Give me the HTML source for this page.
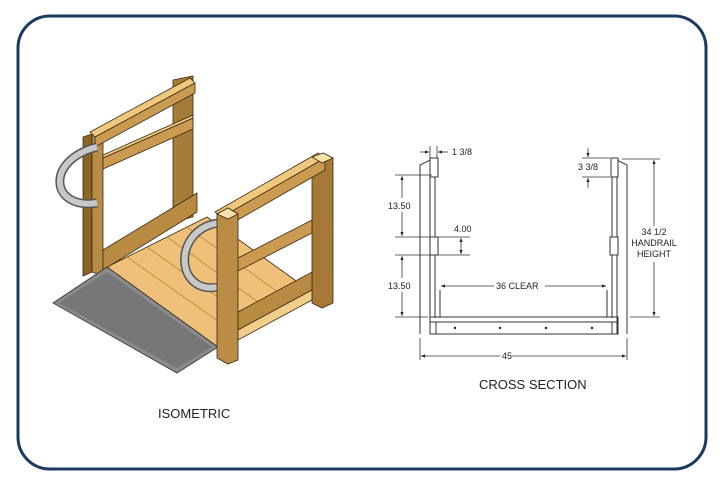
<!DOCTYPE html>
<html><head><style>
html,body{margin:0;padding:0;background:#fff;width:722px;height:487px;overflow:hidden}
svg{display:block}
text{font-family:"Liberation Sans",sans-serif;fill:#222}
</style></head><body>
<svg width="722" height="487" viewBox="0 0 722 487" xmlns="http://www.w3.org/2000/svg">
<defs>
<marker id="a" viewBox="0 0 10 10" refX="10" refY="5" markerWidth="5" markerHeight="5" orient="auto-start-reverse"><path d="M0,1 L10,5 L0,9 z" fill="#222"/></marker>
</defs>
<rect x="18" y="16" width="688" height="453" rx="32" fill="#fff" stroke="#1b3a63" stroke-width="3"/>

<!-- ISOMETRIC -->
<g stroke="#3a2a10" stroke-width="0.8">
<polygon points="173,80 193,76 193,217 173,222" fill="#a67c3a"/>
<polygon points="83,137 92,134 92,272 83,276" fill="#8d6428"/>
<polygon points="92,134 103,138 103,276 92,272" fill="#b88b48"/>
<polygon points="90,132 190,78 195,83 95,137" fill="#efc77e"/>
<polygon points="95,137 195,83 195,93 95,147" fill="#c99a50"/>
<polygon points="103,158 193,118 193,129 103,169" fill="#c99a50"/>
<polygon points="103,155 193,115 193,118 103,158" fill="#efc77e"/>
<polygon points="107,267 207,217 313,293 218,347" fill="#efc07a"/>
<g stroke="#c68e45" stroke-width="1">
<line x1="127" y1="257" x2="235" y2="333"/><line x1="147" y1="247" x2="253" y2="322"/>
<line x1="167" y1="237" x2="272" y2="312"/><line x1="187" y1="227" x2="292" y2="302"/>
</g>
<polygon points="103,250 197,193 197,212 103,270" fill="#b88a42"/>
<polygon points="53,303 107,267 218,347 177,373" fill="#8a8a8a" stroke="#333"/>
<polygon points="59,303 107,272 212,347 177,368" fill="#777" stroke="none"/>
<path d="M97,147 C45,160 50,210 97,203" fill="none" stroke="#555" stroke-width="9"/>
<path d="M97,147 C45,160 50,210 97,203" fill="none" stroke="#c8c8c8" stroke-width="6"/>
<path d="M218,223 C172,230 175,295 218,287" fill="none" stroke="#555" stroke-width="9"/>
<path d="M218,223 C172,230 175,295 218,287" fill="none" stroke="#c8c8c8" stroke-width="6"/>
<polygon points="312,157 323,153 333,158 333,303 322,308 312,303" fill="#a67a36"/>
<polygon points="215,212 318,153 325,158 222,217" fill="#efc77e"/>
<polygon points="222,217 325,158 325,170 222,229" fill="#c99a50"/>
<polygon points="238,258 312,220 312,233 238,271" fill="#c99a50"/>
<polygon points="238,312 312,272 312,290 238,330" fill="#b88a42"/>
<polygon points="238,330 312,290 312,300 238,340" fill="#f2cd8c"/>
<polygon points="217,214 228,208 238,214 238,360 228,364 217,358" fill="#ba8c46"/>
<polygon points="217,214 228,208 238,214 228,219" fill="#f6e2a8"/>
<polygon points="323,153 333,158 322,163 312,157" fill="#f6e2a8"/>
</g>
<text x="158" y="418" font-size="13">ISOMETRIC</text>

<!-- CROSS SECTION -->
<g stroke="#333" stroke-width="1" fill="none">
<path d="M420,334 L420,165 L430,160 L430,334"/>
<rect x="430" y="158" width="8" height="19" fill="#fff"/>
<line x1="435" y1="177" x2="435" y2="318"/>
<rect x="430" y="237" width="8" height="18" fill="#fff"/>
<path d="M627,334 L627,165 L617,160 L617,334"/>
<rect x="611" y="158" width="7" height="19" fill="#fff"/>
<line x1="612" y1="177" x2="612" y2="318"/>
<rect x="610" y="237" width="8" height="18" fill="#fff"/>
<rect x="430" y="317" width="188" height="17"/>
<line x1="430" y1="322" x2="618" y2="322"/>
<line x1="436" y1="322" x2="436" y2="334"/><line x1="612" y1="322" x2="612" y2="334"/>
<line x1="440" y1="290" x2="440" y2="317"/><line x1="607" y1="290" x2="607" y2="317"/>
</g>
<g fill="#222"><circle cx="455" cy="328" r="1.2"/><circle cx="500" cy="328" r="1.2"/><circle cx="546" cy="328" r="1.2"/><circle cx="592" cy="328" r="1.2"/></g>
<g stroke="#333" stroke-width="0.8" fill="none">
<line x1="420" y1="338" x2="420" y2="360"/><line x1="627" y1="338" x2="627" y2="360"/>
<line x1="421" y1="356" x2="500" y2="356" marker-start="url(#a)"/><line x1="512" y1="356" x2="626" y2="356" marker-end="url(#a)"/>
<line x1="622" y1="159" x2="660" y2="159"/><line x1="630" y1="317" x2="660" y2="317"/>
<line x1="654" y1="160" x2="654" y2="226" marker-start="url(#a)"/><line x1="654" y1="262" x2="654" y2="316" marker-end="url(#a)"/>
<line x1="395" y1="175" x2="432" y2="175"/><line x1="395" y1="237" x2="470" y2="237"/>
<line x1="395" y1="255" x2="470" y2="255"/><line x1="395" y1="317" x2="428" y2="317"/>
<line x1="402" y1="176" x2="402" y2="198" marker-start="url(#a)"/><line x1="402" y1="212" x2="402" y2="236" marker-end="url(#a)"/>
<line x1="402" y1="256" x2="402" y2="278" marker-start="url(#a)"/><line x1="402" y1="292" x2="402" y2="316" marker-end="url(#a)"/>
<line x1="461" y1="238" x2="461" y2="254" marker-start="url(#a)" marker-end="url(#a)"/>
<line x1="441" y1="286" x2="494" y2="286" marker-start="url(#a)"/><line x1="545" y1="286" x2="606" y2="286" marker-end="url(#a)"/>
<line x1="430" y1="146" x2="430" y2="158"/><line x1="437" y1="146" x2="437" y2="158"/>
<line x1="420" y1="152" x2="429" y2="152" marker-end="url(#a)"/><line x1="448" y1="152" x2="438" y2="152" marker-end="url(#a)"/>
<line x1="588" y1="148" x2="588" y2="157" marker-end="url(#a)"/><line x1="588" y1="188" x2="588" y2="178" marker-end="url(#a)"/>
<line x1="582" y1="158" x2="610" y2="158"/><line x1="582" y1="177" x2="610" y2="177"/>
</g>
<g font-size="9">
<text x="452" y="155">1 3/8</text>
<text x="578" y="170">3 3/8</text>
<text x="388" y="209">13.50</text>
<text x="388" y="289">13.50</text>
<text x="454" y="232">4.00</text>
<text x="496" y="289">36 CLEAR</text>
<text x="502" y="359">45</text>
<text x="654" y="235" text-anchor="middle">34 1/2</text>
<text x="654" y="246" text-anchor="middle">HANDRAIL</text>
<text x="654" y="257" text-anchor="middle">HEIGHT</text>
</g>
<text x="479" y="389" font-size="13">CROSS SECTION</text>
</svg>
</body></html>
